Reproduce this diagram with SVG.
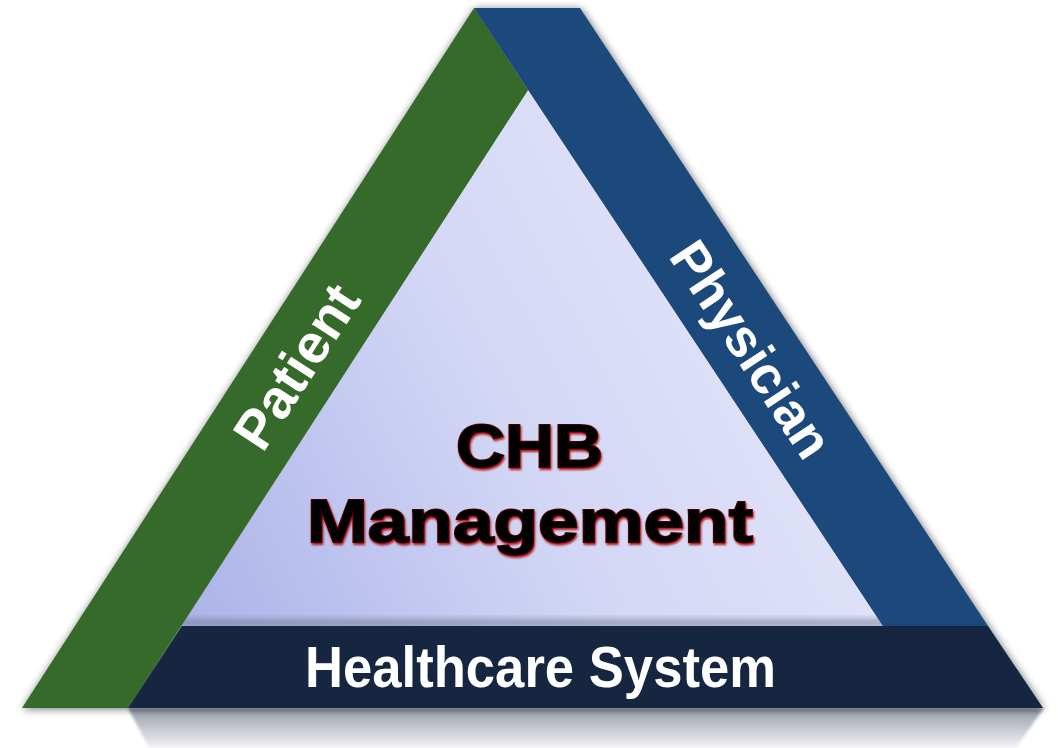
<svg xmlns="http://www.w3.org/2000/svg" width="1058" height="748" viewBox="0 0 1058 748">
  <defs>
    <linearGradient id="coreFill" gradientUnits="userSpaceOnUse" x1="182" y1="626" x2="800" y2="300">
      <stop offset="0" stop-color="#abb3e9"/>
      <stop offset="0.55" stop-color="#d3d7f5"/>
      <stop offset="1" stop-color="#e3e4f9"/>
    </linearGradient>
    <linearGradient id="reflect" gradientUnits="userSpaceOnUse" x1="0" y1="708" x2="0" y2="748">
      <stop offset="0" stop-color="#7f8794"/>
      <stop offset="0.15" stop-color="#a3a9b4"/>
      <stop offset="1" stop-color="#f3f3f5"/>
    </linearGradient>
    <filter id="outerShadow" x="-10%" y="-10%" width="120%" height="120%">
      <feGaussianBlur in="SourceAlpha" stdDeviation="4"/>
      <feOffset dx="1" dy="1" result="b"/>
      <feComponentTransfer><feFuncA type="linear" slope="0.55"/></feComponentTransfer>
      <feMerge><feMergeNode/><feMergeNode in="SourceGraphic"/></feMerge>
    </filter>
    <filter id="soft" x="-10%" y="-50%" width="120%" height="200%">
      <feGaussianBlur stdDeviation="3"/>
    </filter>
    <filter id="edgeBlur" x="-5%" y="-20%" width="110%" height="140%">
      <feGaussianBlur stdDeviation="1.5"/>
    </filter>
    <filter id="redRim" x="-10%" y="-20%" width="120%" height="150%">
      <feDropShadow dx="1" dy="2" stdDeviation="0.8" flood-color="#b00000" flood-opacity="0.9"/>
    </filter>
    <style>
      .band-label { font-family: "Liberation Sans", Arial, sans-serif; font-weight: 700; fill: #ffffff; }
      .core-label { font-family: "Liberation Sans", Arial, sans-serif; font-weight: 700; fill: #000000;
                    stroke: #4a0000; stroke-width: 1.9; paint-order: stroke; filter: url(#redRim); }
    </style>
  </defs>

  <rect width="1058" height="748" fill="#ffffff"/>

  <!-- reflection under the base band -->
  <path d="M128,708 L1044,708 L1016,748 L149,748 Z" fill="url(#reflect)" filter="url(#edgeBlur)"/>

  <g filter="url(#outerShadow)">
    <!-- inner triangle -->
    <g id="node-core">
      <polygon points="528,90 182,626 883,626" fill="url(#coreFill)"/>
    </g>

    <!-- navy band casts a soft shadow onto the core -->
    <rect x="182" y="619" width="706" height="8" fill="#6b7088" opacity="0.55" filter="url(#soft)"/>

    <g id="node-patient">
      <polygon points="474,8 528,90 128,708 22,708" fill="#356a2a"/>
      <text class="band-label" font-size="55" text-anchor="middle" dy="0.36em"
            transform="translate(296,366) rotate(-57.1)">Patient</text>
    </g>

    <g id="node-physician">
      <polygon points="474,8 580,8 988,626 883,626" fill="#1f497c"/>
      <text class="band-label" font-size="53" text-anchor="middle" dy="0.36em"
            transform="translate(752,349) rotate(56.5)">Physician</text>
    </g>

    <g id="node-healthcare">
      <polygon points="182,626 988,626 1043,708 128,708" fill="#12263f"/>
      <text class="band-label" x="540.5" y="687" font-size="57" text-anchor="middle"
            textLength="471" lengthAdjust="spacingAndGlyphs">Healthcare System</text>
    </g>
  </g>

  <g id="node-center">
    <text class="core-label" x="529.5" y="467" font-size="61" text-anchor="middle"
          textLength="147" lengthAdjust="spacingAndGlyphs">CHB</text>
    <text class="core-label" x="530" y="542" font-size="61" text-anchor="middle"
          textLength="446" lengthAdjust="spacingAndGlyphs">Management</text>
  </g>
</svg>
